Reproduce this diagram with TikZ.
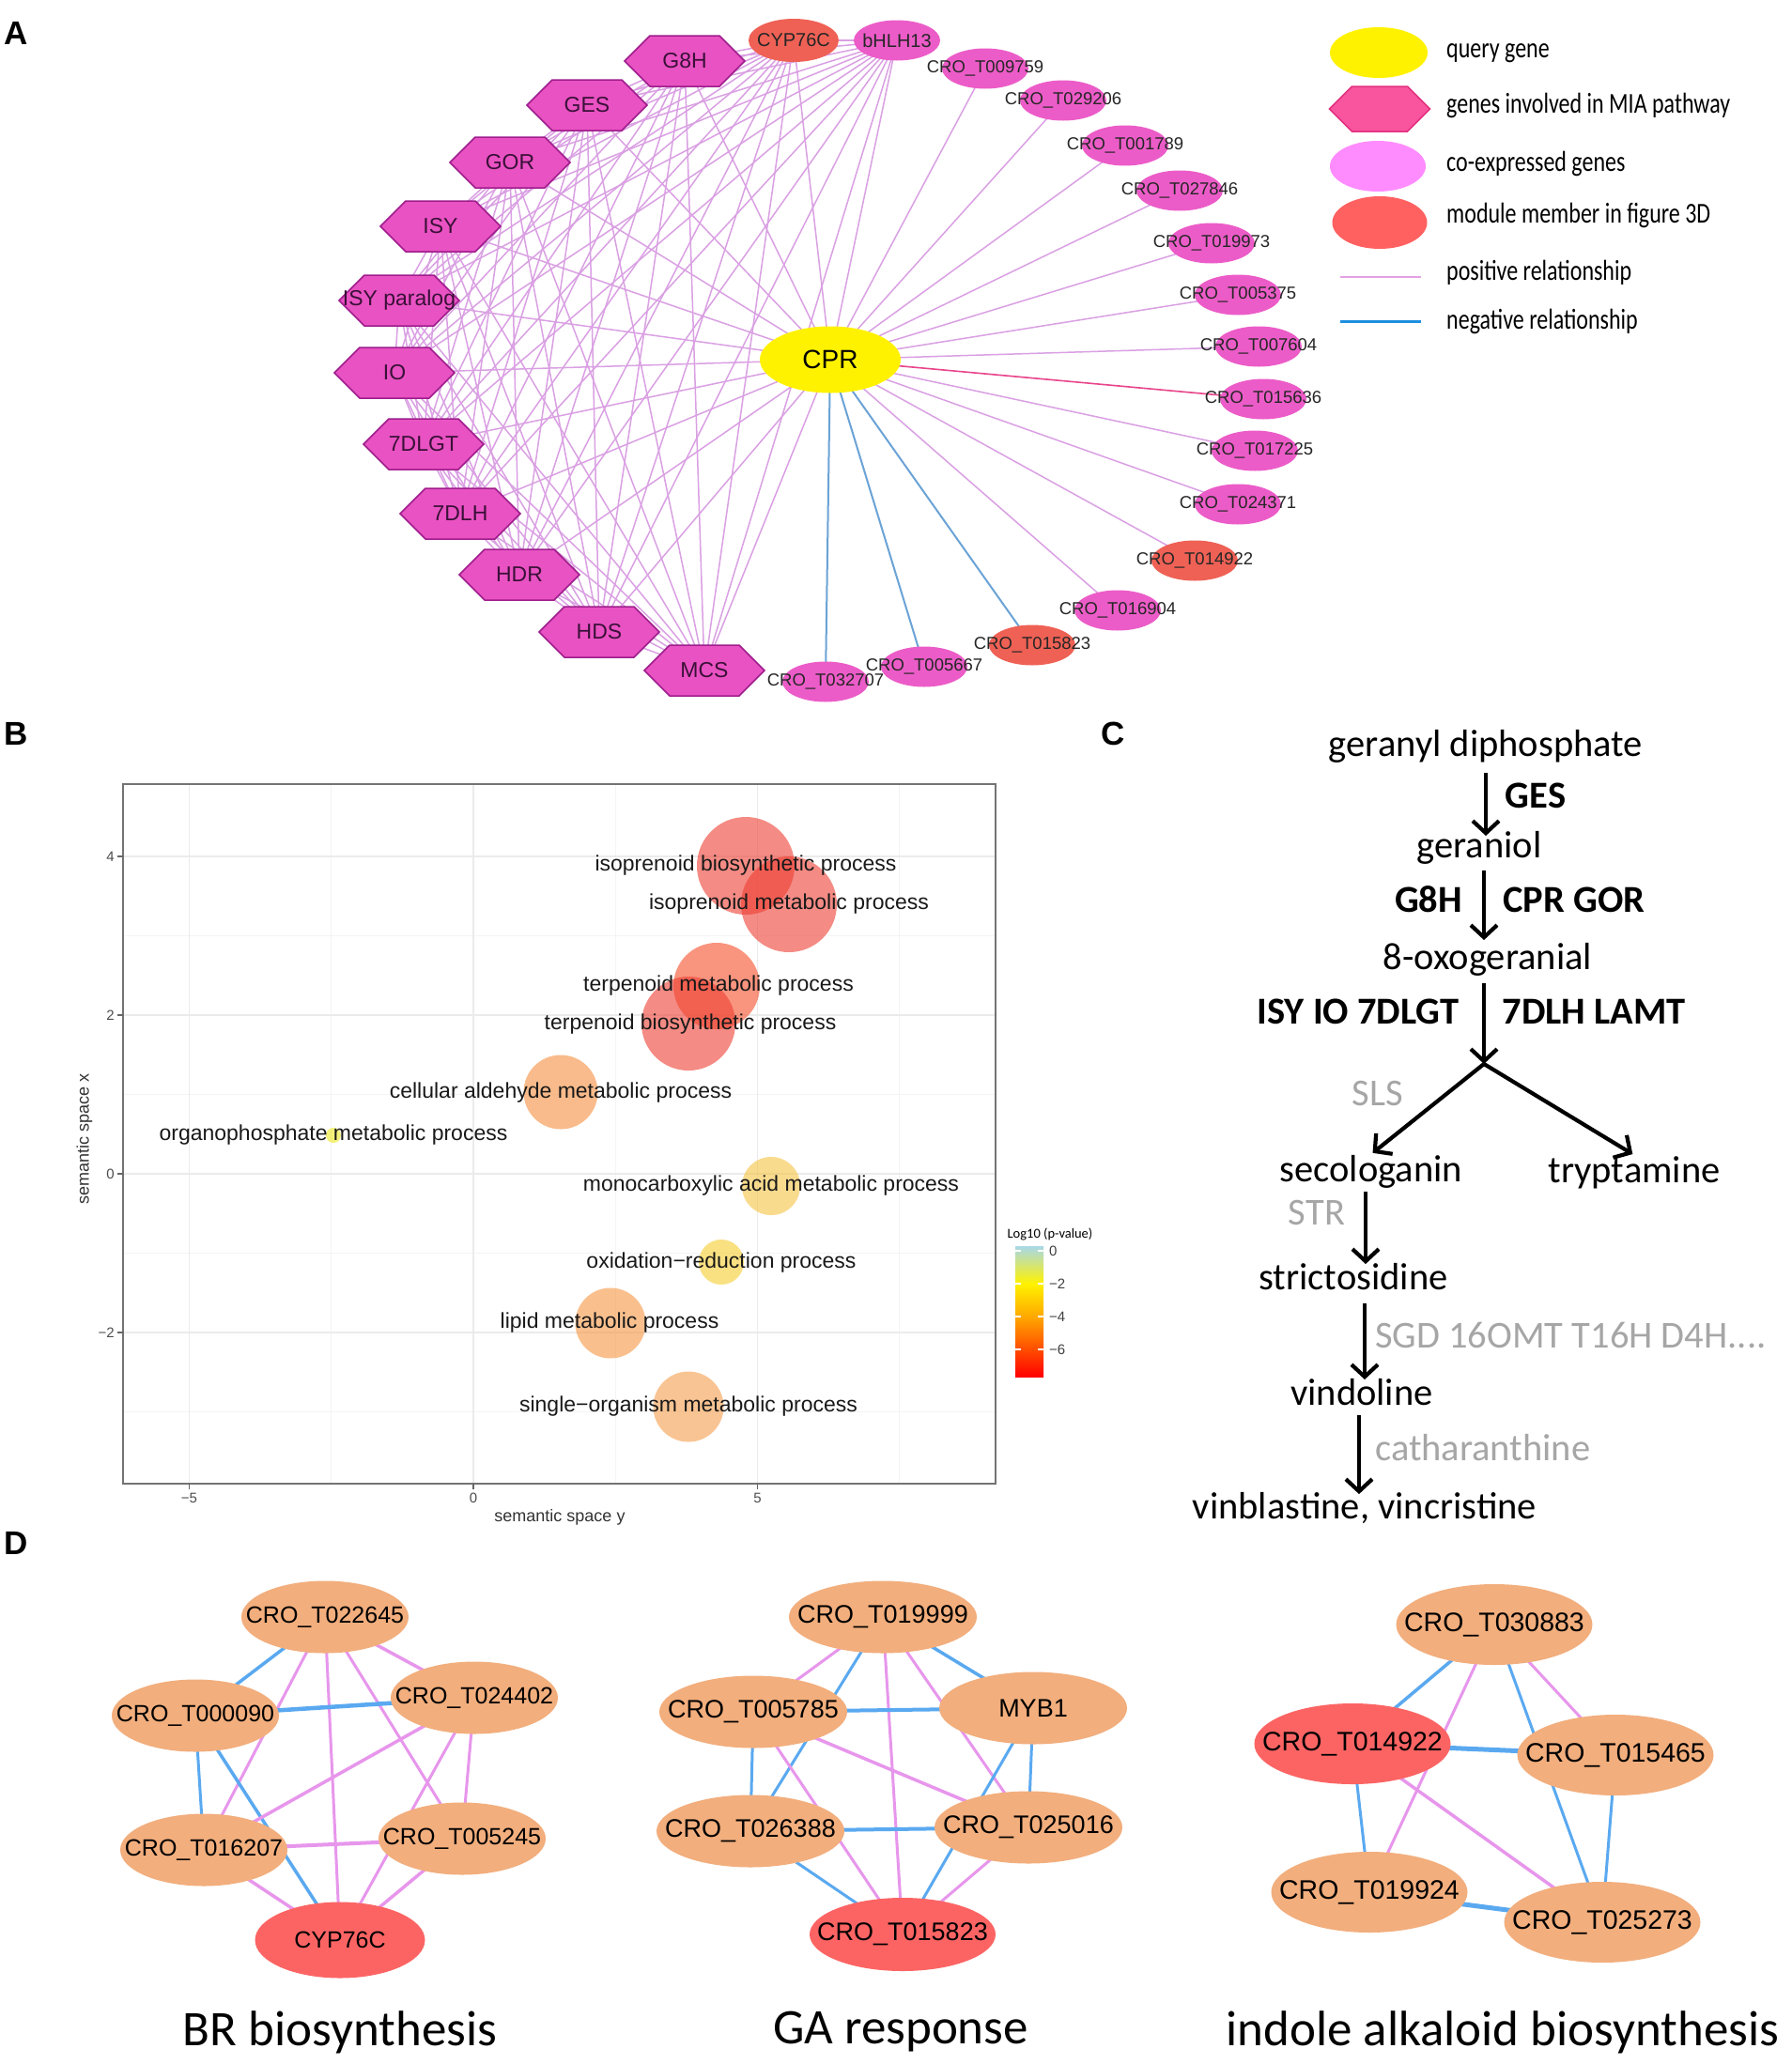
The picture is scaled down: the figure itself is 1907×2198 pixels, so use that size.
\documentclass[tikz,border=0pt]{standalone}
\usepackage{fontspec}
\setmainfont{Liberation Sans}
\newfontfamily\calfont{Carlito}
\usetikzlibrary{shapes.geometric,shapes.symbols,arrows.meta,backgrounds}
\definecolor{hexfill}{HTML}{E952C2}
\definecolor{hexdraw}{HTML}{9E1D8C}
\definecolor{hextext}{HTML}{3A1038}
\definecolor{cofill}{HTML}{EC5CC8}
\definecolor{modred}{HTML}{EF6155}
\definecolor{posA}{HTML}{DAA0E3}
\definecolor{negA}{HTML}{6BA3D6}
\definecolor{strongA}{HTML}{E8458B}
\definecolor{lghex}{HTML}{F9559F}
\definecolor{lghexdraw}{HTML}{E2307E}
\definecolor{lgco}{HTML}{FF8CFF}
\definecolor{lgmod}{HTML}{FF6161}
\definecolor{lgpos}{HTML}{E3A1E3}
\definecolor{lgneg}{HTML}{1E8FE0}
\definecolor{dorange}{HTML}{F2AE7D}
\definecolor{dred}{HTML}{FC6464}
\definecolor{dpink}{HTML}{E796EC}
\definecolor{dblue}{HTML}{5AA9F0}
\definecolor{cgray}{HTML}{A6A6A6}
\definecolor{gridmaj}{HTML}{EBEBEB}
\definecolor{gridmin}{HTML}{F4F4F4}
\definecolor{bubA}{HTML}{EE3E32}
\definecolor{bubB}{HTML}{F54E28}
\definecolor{bubC}{HTML}{F58F3E}
\definecolor{bubD}{HTML}{F59643}
\definecolor{bubE}{HTML}{F59D4B}
\definecolor{bubF}{HTML}{F5C343}
\definecolor{bubG}{HTML}{F5CD30}
\definecolor{bubH}{HTML}{EDE820}
\definecolor{cbtop}{HTML}{A8D8E8}
\definecolor{cbmid}{HTML}{D6EC8C}
\definecolor{cbyel}{HTML}{FFF200}
\definecolor{cborg}{HTML}{FFA800}
\definecolor{cbrm}{HTML}{FF4A00}
\definecolor{cbred}{HTML}{FF0000}
\begin{document}
\begin{tikzpicture}[x=1pt,y=-1pt,
  panel/.style={font=\bfseries\fontsize{35}{35}\selectfont, inner sep=0pt},
  hexnode/.style={signal, signal to=east and west, signal pointer angle=90,
     fill=hexfill, draw=hexdraw, line width=1.5pt, minimum width=128pt,
     minimum height=54pt, inner sep=0pt},
  hexlab/.style={font=\fontsize{23}{23}\selectfont, text=hextext, inner sep=0pt},
  coell/.style={ellipse, fill=cofill, minimum width=92pt, minimum height=43pt, inner sep=0pt},
  modell/.style={coell, fill=modred},
  crolab/.style={font=\fontsize{18.5}{18.5}\selectfont, text=black!85, inner sep=0pt},
  gl/.style={font=\fontsize{20}{20}\selectfont, text=black!85, inner sep=0pt},
  posedge/.style={draw=posA, line width=1.5pt},
  negedge/.style={draw=negA, line width=2pt},
  stredge/.style={draw=strongA, line width=1.6pt},
  lgtext/.style={font=\calfont\fontsize{24}{24}\selectfont, anchor=base west, inner sep=0pt},
  bub/.style={circle, inner sep=0pt, fill opacity=0.6, draw=none},
  blab/.style={font=\fontsize{23}{23}\selectfont, text=black!90, inner sep=0pt},
  ticklab/.style={font=\fontsize{15}{15}\selectfont, text=black!70, inner sep=0pt},
  ctext/.style={font=\calfont\fontsize{40.5}{40.5}\selectfont, inner sep=0pt, text height=29pt, text depth=8.5pt},
  cenz/.style={font=\calfont\bfseries\fontsize{40.5}{40.5}\selectfont, inner sep=0pt},
  cgr/.style={font=\calfont\fontsize{40.5}{40.5}\selectfont, text=cgray, inner sep=0pt},
  carr/.style={line width=4.2pt, -{Straight Barb[length=13pt,width=28pt]}},
  dnode/.style={ellipse, fill=dorange, inner sep=0pt, minimum width=178pt, minimum height=77pt},
  dnodeG/.style={dnode, minimum width=200pt, minimum height=77pt},
  dnodeI/.style={dnode, minimum width=209pt, minimum height=86pt},
  dlabB/.style={font=\fontsize{25}{25}\selectfont, inner sep=0pt},
  dlabG/.style={font=\fontsize{27}{27}\selectfont, inner sep=0pt},
  dlabI/.style={font=\fontsize{28.5}{28.5}\selectfont, inner sep=0pt},
  dtitle/.style={font=\calfont\fontsize{53}{53}\selectfont, inner sep=0pt},
  dp/.style={draw=dpink, line width=3pt},
  db/.style={draw=dblue, line width=3pt}
]
\useasboundingbox (0,0) rectangle (1907,2198);

% ================= Panel A =================
\node[panel] (lA) at (17,35) {A};
\node[hexnode, label={[hexlab]center:G8H}] (g8h) at (729,65) {};
\node[hexnode, label={[hexlab]center:GES}] (ges) at (625,112) {};
\node[hexnode, label={[hexlab]center:GOR}] (gor) at (543,173) {};
\node[hexnode, label={[hexlab]center:ISY}] (isy) at (469,241) {};
\node[hexnode, label={[hexlab]center:ISY paralog}] (isyp) at (425,320) {};
\node[hexnode, label={[hexlab]center:IO}] (io) at (420,397) {};
\node[hexnode, label={[hexlab]center:7DLGT}] (dlgt) at (451,473) {};
\node[hexnode, label={[hexlab]center:7DLH}] (dlh) at (490,547) {};
\node[hexnode, label={[hexlab]center:HDR}] (hdr) at (553,612) {};
\node[hexnode, label={[hexlab]center:HDS}] (hds) at (638,673) {};
\node[hexnode, label={[hexlab]center:MCS}] (mcs) at (750,714) {};
\node[modell, minimum width=96pt, minimum height=46pt, label={[gl]center:CYP76C}] (cyp) at (845,43) {};
\node[coell, label={[gl]center:bHLH13}] (bhlh) at (955,43) {};
\node[ellipse, fill=yellow, minimum width=150pt, minimum height=71pt, inner sep=0pt,
      label={[font=\fontsize{28}{28}\selectfont, inner sep=0pt]center:CPR}] (cpr) at (884,383) {};
\node[coell, label={[crolab]center:CRO\_T009759}] (t009759) at (1049,73) {};
\node[coell, label={[crolab]center:CRO\_T029206}] (t029206) at (1132,107) {};
\node[coell, label={[crolab]center:CRO\_T001789}] (t001789) at (1198,155) {};
\node[coell, label={[crolab]center:CRO\_T027846}] (t027846) at (1256,203) {};
\node[coell, label={[crolab]center:CRO\_T019973}] (t019973) at (1290,259) {};
\node[coell, label={[crolab]center:CRO\_T005375}] (t005375) at (1318,314) {};
\node[coell, label={[crolab]center:CRO\_T007604}] (t007604) at (1340,369) {};
\node[coell, label={[crolab]center:CRO\_T015636}] (t015636) at (1345,425) {};
\node[coell, label={[crolab]center:CRO\_T017225}] (t017225) at (1336,480) {};
\node[coell, label={[crolab]center:CRO\_T024371}] (t024371) at (1318,537) {};
\node[modell, label={[crolab]center:CRO\_T014922}] (t014922) at (1272,597) {};
\node[coell, label={[crolab]center:CRO\_T016904}] (t016904) at (1190,650) {};
\node[modell, label={[crolab]center:CRO\_T015823}] (t015823) at (1099,687) {};
\node[coell, label={[crolab]center:CRO\_T005667}] (t005667) at (984,710) {};
\node[coell, label={[crolab]center:CRO\_T032707}] (t032707) at (879,726) {};

\begin{scope}[on background layer]
\fill[white] (0,0) rectangle (1907,2198);
\foreach \u [count=\i] in {g8h,ges,gor,isy,isyp,io,dlgt,dlh,hdr,hds,mcs,cyp,bhlh}{
  \foreach \v [count=\j] in {g8h,ges,gor,isy,isyp,io,dlgt,dlh,hdr,hds,mcs,cyp,bhlh}{
    \ifnum\j>\i \draw[posedge] (\u.center) -- (\v.center);\fi
  }
}
\foreach \v in {g8h,ges,gor,isy,isyp,io,dlgt,dlh,hdr,hds,mcs,cyp,bhlh,t009759,t029206,t001789,t027846,t019973,t005375,t007604,t017225,t024371,t014922,t016904}
  \draw[posedge] (cpr.center) -- (\v.center);
\draw[stredge] (cpr.center) -- (t015636.center);
\foreach \v in {t015823,t005667,t032707} \draw[negedge] (cpr.center) -- (\v.center);
\end{scope}

% legend
\node[ellipse, fill=yellow, minimum width=104pt, minimum height=54pt, inner sep=0pt] (lgq) at (1468,56) {};
\node[hexnode, fill=lghex, draw=lghexdraw, minimum width=107pt, minimum height=48pt] (lgh) at (1469,116) {};
\node[ellipse, fill=lgco, minimum width=102pt, minimum height=54pt, inner sep=0pt] (lgc) at (1467,177) {};
\node[ellipse, fill=lgmod, minimum width=101pt, minimum height=56pt, inner sep=0pt] (lgm) at (1469,237) {};
\coordinate (lp1) at (1427,295); \coordinate (lp2) at (1513,295);
\coordinate (ln1) at (1427,342); \coordinate (ln2) at (1513,342);
\draw[lgpos, line width=2.5pt] (lp1) -- (lp2);
\draw[lgneg, line width=3pt] (ln1) -- (ln2);
\node[lgtext] (lgt1) at (1540,61) {\scalebox{1}[1.28]{query gene}};
\node[lgtext] (lgt2) at (1540,120) {\scalebox{1}[1.28]{genes involved in MIA pathway}};
\node[lgtext] (lgt3) at (1540,182) {\scalebox{1}[1.28]{co-expressed genes}};
\node[lgtext] (lgt4) at (1540,237) {\scalebox{1}[1.28]{module member in figure 3D}};
\node[lgtext] (lgt5) at (1540,298) {\scalebox{1}[1.28]{positive relationship}};
\node[lgtext] (lgt6) at (1540,350) {\scalebox{1}[1.28]{negative relationship}};

% ================= Panel B =================
\node[panel] (lB) at (17,781) {B};
\foreach \gx in {352.75,655.25,957.75} \draw[gridmin, line width=1pt] (\gx,835) -- (\gx,1580);
\foreach \gy in {996.5,1165.5,1334.5,1503.5} \draw[gridmin, line width=1pt] (131,\gy) -- (1060,\gy);
\foreach \gx in {201.5,504,806.5} \draw[gridmaj, line width=1.6pt] (\gx,835) -- (\gx,1580);
\foreach \gy in {912,1081,1250,1419} \draw[gridmaj, line width=1.6pt] (131,\gy) -- (1060,\gy);

\node[bub, fill=bubA, minimum size=104pt] (c1) at (794,922) {};
\node[bub, fill=bubA, minimum size=102pt] (c2) at (840,963) {};
\node[bub, fill=bubB, minimum size=92pt] (c3) at (763,1050) {};
\node[bub, fill=bubA, minimum size=100pt] (c4) at (733,1090) {};
\node[bub, fill=bubC, minimum size=79pt] (c5) at (597,1163) {};
\node[bub, fill=bubH, minimum size=16pt] (c6) at (355,1209) {};
\node[bub, fill=bubF, minimum size=62pt] (c7) at (821,1263) {};
\node[bub, fill=bubG, minimum size=48pt] (c8) at (768,1344) {};
\node[bub, fill=bubD, minimum size=75pt] (c9) at (650,1409) {};
\node[bub, fill=bubE, minimum size=75pt] (c10) at (733,1498) {};

\node[blab] (l1) at (794,922) {isoprenoid biosynthetic process};
\node[blab] (l2) at (840,963) {isoprenoid metabolic process};
\node[blab] (l3) at (765,1050) {terpenoid metabolic process};
\node[blab] (l4) at (735,1091) {terpenoid biosynthetic process};
\node[blab] (l5) at (597,1164) {cellular aldehyde metabolic process};
\node[blab] (l6) at (355,1209) {organophosphate metabolic process};
\node[blab] (l7) at (821,1263) {monocarboxylic acid metabolic process};
\node[blab] (l8) at (768,1345) {oxidation−reduction process};
\node[blab] (l9) at (649,1409) {lipid metabolic process};
\node[blab] (l10) at (733,1498) {single−organism metabolic process};

\draw[black!55, line width=1.5pt] (131,835) rectangle (1060,1580);
\foreach \gx/\t [count=\k] in {201.5/−5,504/0,806.5/5}{
  \draw[black!60, line width=1.5pt] (\gx,1580) -- (\gx,1586);
  \node[ticklab, anchor=north] (xt\k) at (\gx,1590) {\t};
}
\foreach \gy/\t [count=\k] in {912/4,1081/2,1250/0,1419/−2}{
  \draw[black!60, line width=1.5pt] (131,\gy) -- (125,\gy);
  \node[ticklab, anchor=east] (yt\k) at (122,\gy) {\t};
}
\node[font=\fontsize{18}{18}\selectfont, text=black!80, inner sep=0pt] (xtitle) at (596,1616) {semantic space y};
\node[font=\fontsize{18}{18}\selectfont, text=black!80, inner sep=0pt, rotate=90] (ytitle) at (90,1213) {semantic space x};

% colour bar
\shade[top color=cbtop, middle color=cbmid, bottom color=cbyel] (1081,1327) rectangle (1111,1367);
\shade[top color=cbyel, bottom color=cborg] (1081,1367) rectangle (1111,1402);
\shade[top color=cborg, middle color=cbrm, bottom color=cbred] (1081,1402) rectangle (1111,1466);
\foreach \gy in {1332,1367,1402,1437}{
  \draw[white, line width=1.2pt] (1081,\gy) -- (1087,\gy);
  \draw[white, line width=1.2pt] (1105,\gy) -- (1111,\gy);
}
\node[font=\calfont\fontsize{14.5}{14.5}\selectfont, inner sep=0pt] (cbt) at (1118,1314) {Log10 (p-value)};
\foreach \gy/\t [count=\k] in {1332/0,1367/−2,1402/−4,1437/−6}
  \node[ticklab, anchor=west, text=black!75] (cb\k) at (1117,\gy) {\t};

% ================= Panel C =================
\node[panel] (lC) at (1185,781) {C};
\node[ctext] (gpp) at (1582,795) {geranyl diphosphate};
\node[ctext] (ger) at (1575,903) {geraniol};
\node[ctext] (oxo) at (1584,1022) {8-oxogeranial};
\node[ctext] (seco) at (1460,1248) {secologanin};
\node[ctext] (tryp) at (1740,1249) {tryptamine};
\node[ctext] (stri) at (1441,1363) {strictosidine};
\node[ctext] (vind) at (1450,1486) {vindoline};
\node[ctext] (vinb) at (1453,1607) {vinblastine, vincristine};
\node[cenz] (eGES) at (1635,847) {GES};
\node[cenz] (eG8H) at (1521,958) {G8H};
\node[cenz] (eCPR) at (1676,958) {CPR GOR};
\node[cenz] (eISY) at (1446,1077) {ISY IO 7DLGT};
\node[cenz] (eDLH) at (1697,1077) {7DLH LAMT};
\node[cgr] (eSLS) at (1467,1164) {SLS};
\node[cgr] (eSTR) at (1402,1291) {STR};
\node[cgr, anchor=west] (eSGD) at (1464,1422) {SGD 16OMT T16H D4H....};
\node[cgr, anchor=west] (eCAT) at (1464,1542) {catharanthine};
\coordinate (a1) at (gpp.south);
\coordinate (a2) at ([xshift=5pt]ger.south);
\coordinate (a3) at ([xshift=-4pt]oxo.south);
\coordinate (br) at (1580,1133);
\coordinate (a4) at ([xshift=-6pt]seco.south);
\coordinate (a5) at ([xshift=12pt]stri.south);
\coordinate (a6) at ([xshift=-3pt]vind.south);
\draw[carr, shorten <=9pt, shorten >=-6pt] (a1) -- (a1 |- ger.north);
\draw[carr, shorten <=5pt, shorten >=2pt] (a2) -- (a2 |- oxo.north);
\draw[carr, shorten <=6pt] (a3) -- (br);
\draw[carr, shorten >=2pt] (br) -- (seco.north);
\draw[carr, shorten >=2pt] (br) -- (tryp.north);
\draw[carr, shorten <=2pt, shorten >=-2pt] (a4) -- (a4 |- stri.north);
\draw[carr, shorten <=6pt, shorten >=-2pt] (a5) -- (a5 |- vind.north);
\draw[carr, shorten <=2pt, shorten >=-3pt] (a6) -- (a6 |- vinb.north);

% ================= Panel D =================
\node[panel] (lD) at (17,1643) {D};
% BR
\node[dnode, label={[dlabB]center:CRO\_T022645}] (b22645) at (346,1722) {};
\node[dnode, label={[dlabB]center:CRO\_T000090}] (b00090) at (208,1827) {};
\node[dnode, label={[dlabB]center:CRO\_T024402}] (b24402) at (505,1808) {};
\node[dnode, label={[dlabB]center:CRO\_T016207}] (b16207) at (217,1970) {};
\node[dnode, label={[dlabB]center:CRO\_T005245}] (b05245) at (492,1958) {};
\node[dnode, fill=dred, minimum width=181pt, minimum height=81pt, label={[dlabB]center:CYP76C}] (bcyp) at (362,2066) {};
% GA
\node[dnodeG, label={[dlabG]center:CRO\_T019999}] (g19999) at (940,1722) {};
\node[dnodeG, label={[dlabG]center:CRO\_T005785}] (g05785) at (802,1823) {};
\node[dnodeG, label={[dlabG]center:MYB1}] (gmyb) at (1100,1819) {};
\node[dnodeG, label={[dlabG]center:CRO\_T026388}] (g26388) at (799,1950) {};
\node[dnodeG, label={[dlabG]center:CRO\_T025016}] (g25016) at (1095,1946) {};
\node[dnodeG, fill=dred, minimum width=198pt, minimum height=78pt, label={[dlabG]center:CRO\_T015823}] (g15823) at (961,2060) {};
% indole
\node[dnodeI, label={[dlabI]center:CRO\_T030883}] (i30883) at (1591,1730) {};
\node[dnodeI, fill=dred, label={[dlabI]center:CRO\_T014922}] (i14922) at (1440,1857) {};
\node[dnodeI, label={[dlabI]center:CRO\_T015465}] (i15465) at (1720,1869) {};
\node[dnodeI, label={[dlabI]center:CRO\_T019924}] (i19924) at (1458,2015) {};
\node[dnodeI, label={[dlabI]center:CRO\_T025273}] (i25273) at (1706,2047) {};

\begin{scope}[on background layer]
% BR edges
\draw[db, line width=3.5pt] (b22645.center) -- (b00090.center);
\draw[dp] (b22645.center) -- (b16207.center);
\draw[dp] (b22645.center) -- (bcyp.center);
\draw[dp] (b22645.center) -- (b05245.center);
\draw[dp, line width=3.5pt] (b22645.center) -- (b24402.center);
\draw[db, line width=4.5pt] (b00090.center) -- (b24402.center);
\draw[db] (b00090.center) -- (b16207.center);
\draw[db, line width=3.5pt] (b00090.center) -- (bcyp.center);
\draw[dp, line width=3.5pt] (b24402.center) -- (b16207.center);
\draw[dp] (b24402.center) -- (bcyp.center);
\draw[dp] (b24402.center) -- (b05245.center);
\draw[dp, line width=4pt] (b16207.center) -- (b05245.center);
\draw[dp, line width=3.5pt] (b16207.center) -- (bcyp.center);
\draw[dp, line width=3.5pt] (b05245.center) -- (bcyp.center);
% GA edges
\draw[dp] (g19999.center) -- (g05785.center);
\draw[db] (g19999.center) -- (g26388.center);
\draw[dp] (g19999.center) -- (g15823.center);
\draw[dp] (g19999.center) -- (g25016.center);
\draw[db, line width=3.5pt] (g19999.center) -- (gmyb.center);
\draw[db, line width=4pt] (g05785.center) -- (gmyb.center);
\draw[db] (g05785.center) -- (g26388.center);
\draw[dp, line width=3.5pt] (g05785.center) -- (g25016.center);
\draw[dp] (g05785.center) -- (g15823.center);
\draw[db] (gmyb.center) -- (g25016.center);
\draw[db] (gmyb.center) -- (g15823.center);
\draw[db, line width=4pt] (g26388.center) -- (g25016.center);
\draw[db] (g26388.center) -- (g15823.center);
\draw[dp] (g25016.center) -- (g15823.center);
% indole edges
\draw[db, line width=3.5pt] (i30883.center) -- (i14922.center);
\draw[dp] (i30883.center) -- (i19924.center);
\draw[db] (i30883.center) -- (i25273.center);
\draw[dp] (i30883.center) -- (i15465.center);
\draw[db, line width=5pt] (i14922.center) -- (i15465.center);
\draw[db] (i14922.center) -- (i19924.center);
\draw[dp, line width=3.5pt] (i14922.center) -- (i25273.center);
\draw[db] (i15465.center) -- (i25273.center);
\draw[db, line width=5pt] (i19924.center) -- (i25273.center);
\end{scope}

\node[dtitle] (tBR) at (362,2164) {BR biosynthesis};
\node[dtitle] (tGA) at (959,2164) {GA response};
\node[dtitle] (tIA) at (1600,2164) {indole alkaloid biosynthesis};
\end{tikzpicture}
\end{document}
